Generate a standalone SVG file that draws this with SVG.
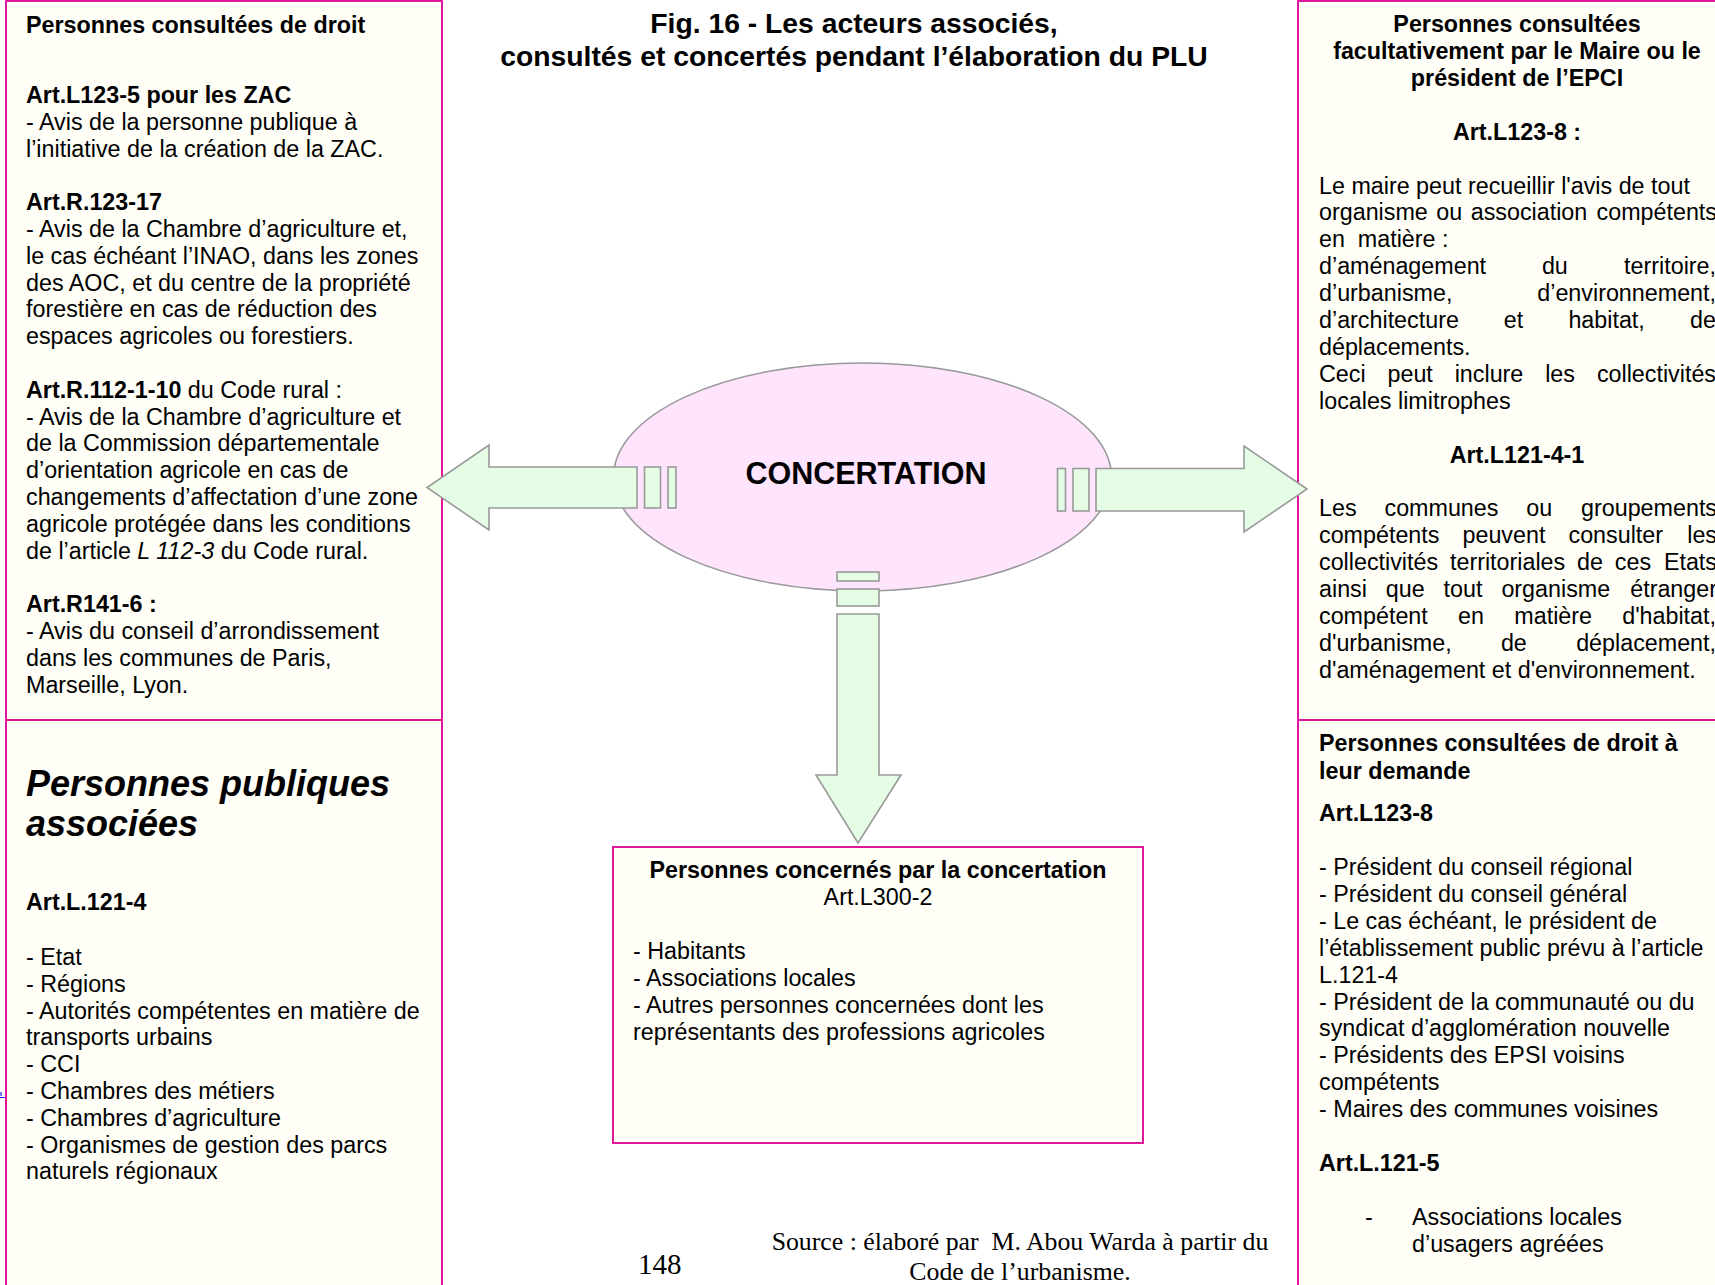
<svg xmlns="http://www.w3.org/2000/svg" width="1715" height="1285" viewBox="0 0 1715 1285">
<style>
text{font-family:"Liberation Sans",Arial,Helvetica,sans-serif;fill:#000}
.b{font-size:23.3px}
.bd{font-size:23.3px;font-weight:bold}
.c{text-anchor:middle}
.e{text-anchor:end}
.title{font-size:28.3px;font-weight:bold;text-anchor:middle}
.box{fill:#fffff7;stroke:#e0189c;stroke-width:2}
.arr{fill:#e5fce5;stroke:#999999;stroke-width:1.6}
.ser{font-family:"Liberation Serif","Times New Roman",serif}
</style>
<rect x="0" y="0" width="1715" height="1285" fill="#ffffff"/>

<g id="title">
<text class="title" x="854" y="33">Fig. 16 - Les acteurs associés,</text>
<text class="title" x="854" y="65.5">consultés et concertés pendant l’élaboration du PLU</text>
</g>

<g id="box-consultees-de-droit">
<rect class="box" x="6" y="1" width="436" height="719"/>
<text class="bd" x="26" y="33">Personnes consultées de droit</text>
<text class="bd" x="26" y="103">Art.L123-5 pour les ZAC</text>
<text class="b" x="26" y="129.8">- Avis de la personne publique à</text>
<text class="b" x="26" y="156.6">l’initiative de la création de la ZAC.</text>
<text class="bd" x="26" y="210.2">Art.R.123-17</text>
<text class="b" x="26" y="237">- Avis de la Chambre d’agriculture et,</text>
<text class="b" x="26" y="263.8">le cas échéant l’INAO, dans les zones</text>
<text class="b" x="26" y="290.6">des AOC, et du centre de la propriété</text>
<text class="b" x="26" y="317.4">forestière en cas de réduction des</text>
<text class="b" x="26" y="344.2">espaces agricoles ou forestiers.</text>
<text class="b" x="26" y="397.8"><tspan font-weight="bold">Art.R.112-1-10</tspan> du Code rural :</text>
<text class="b" x="26" y="424.6">- Avis de la Chambre d’agriculture et</text>
<text class="b" x="26" y="451.4">de la Commission départementale</text>
<text class="b" x="26" y="478.2">d’orientation agricole en cas de</text>
<text class="b" x="26" y="505">changements d’affectation d’une zone</text>
<text class="b" x="26" y="531.8">agricole protégée dans les conditions</text>
<text class="b" x="26" y="558.6">de l’article <tspan font-style="italic">L 112-3</tspan> du Code rural.</text>
<text class="bd" x="26" y="612.2">Art.R141-6 :</text>
<text class="b" x="26" y="639">- Avis du conseil d’arrondissement</text>
<text class="b" x="26" y="665.8">dans les communes de Paris,</text>
<text class="b" x="26" y="692.6">Marseille, Lyon.</text>
</g>

<g id="box-personnes-publiques-associees">
<rect class="box" x="6" y="720" width="436" height="580"/>
<text x="26" y="796" font-size="36" font-weight="bold" font-style="italic">Personnes publiques</text>
<text x="26" y="836" font-size="36" font-weight="bold" font-style="italic">associées</text>
<text class="bd" x="26" y="910">Art.L.121-4</text>
<text class="b" x="26" y="965">- Etat</text>
<text class="b" x="26" y="991.8">- Régions</text>
<text class="b" x="26" y="1018.6">- Autorités compétentes en matière de</text>
<text class="b" x="26" y="1045.4">transports urbains</text>
<text class="b" x="26" y="1072.2">- CCI</text>
<text class="b" x="26" y="1099">- Chambres des métiers</text>
<text class="b" x="26" y="1125.8">- Chambres d’agriculture</text>
<text class="b" x="26" y="1152.6">- Organismes de gestion des parcs</text>
<text class="b" x="26" y="1179.4">naturels régionaux</text>
</g>

<g id="box-consultees-facultativement">
<rect class="box" x="1298" y="1" width="430" height="719"/>
<text class="bd c" x="1517" y="32">Personnes consultées</text>
<text class="bd c" x="1517" y="58.8">facultativement par le Maire ou le</text>
<text class="bd c" x="1517" y="85.6">président de l’EPCI</text>
<text class="bd c" x="1517" y="139.5">Art.L123-8 :</text>
<text class="b" x="1319" y="193.5">Le maire peut recueillir l'avis de tout</text>
<text class="b" y="220.4"><tspan x="1319">organisme</tspan><tspan x="1436.3">ou</tspan><tspan x="1470.7">association</tspan><tspan x="1717" text-anchor="end">compétents</tspan></text>
<text class="b" x="1319" y="247.3" xml:space="preserve">en  matière :</text>
<text class="b" y="274.2"><tspan x="1319">d’aménagement</tspan><tspan x="1541.9">du</tspan><tspan x="1716" text-anchor="end">territoire,</tspan></text>
<text class="b" y="301.1"><tspan x="1319">d’urbanisme,</tspan><tspan x="1716" text-anchor="end">d’environnement,</tspan></text>
<text class="b" y="328"><tspan x="1319">d’architecture</tspan><tspan x="1503.7">et</tspan><tspan x="1568.4">habitat,</tspan><tspan x="1716" text-anchor="end">de</tspan></text>
<text class="b" x="1319" y="354.9">déplacements.</text>
<text class="b" y="381.8"><tspan x="1319">Ceci</tspan><tspan x="1387.5">peut</tspan><tspan x="1454.7">inclure</tspan><tspan x="1545.2">les</tspan><tspan x="1716" text-anchor="end">collectivités</tspan></text>
<text class="b" x="1319" y="408.7">locales limitrophes</text>
<text class="bd c" x="1517" y="462.5">Art.L121-4-1</text>
<text class="b" y="516.3"><tspan x="1319">Les</tspan><tspan x="1384.5">communes</tspan><tspan x="1526.3">ou</tspan><tspan x="1717" text-anchor="end">groupements</tspan></text>
<text class="b" y="543.2"><tspan x="1319">compétents</tspan><tspan x="1462.5">peuvent</tspan><tspan x="1568.5">consulter</tspan><tspan x="1717" text-anchor="end">les</tspan></text>
<text class="b" y="570.1"><tspan x="1319">collectivités</tspan><tspan x="1450">territoriales</tspan><tspan x="1577">de</tspan><tspan x="1614.8">ces</tspan><tspan x="1717" text-anchor="end">Etats</tspan></text>
<text class="b" y="597"><tspan x="1319">ainsi</tspan><tspan x="1385.8">que</tspan><tspan x="1443.6">tout</tspan><tspan x="1501.4">organisme</tspan><tspan x="1717" text-anchor="end">étranger</tspan></text>
<text class="b" y="623.9"><tspan x="1319">compétent</tspan><tspan x="1458.1">en</tspan><tspan x="1514.3">matière</tspan><tspan x="1716" text-anchor="end">d'habitat,</tspan></text>
<text class="b" y="650.8"><tspan x="1319">d'urbanisme,</tspan><tspan x="1500.9">de</tspan><tspan x="1716" text-anchor="end">déplacement,</tspan></text>
<text class="b" x="1319" y="677.7">d'aménagement et d'environnement.</text>
</g>

<g id="box-consultees-a-leur-demande">
<rect class="box" x="1298" y="720" width="430" height="580"/>
<text class="bd" x="1319" y="751">Personnes consultées de droit à</text>
<text class="bd" x="1319" y="779">leur demande</text>
<text class="bd" x="1319" y="821">Art.L123-8</text>
<text class="b" x="1319" y="875">- Président du conseil régional</text>
<text class="b" x="1319" y="901.9">- Président du conseil général</text>
<text class="b" x="1319" y="928.8">- Le cas échéant, le président de</text>
<text class="b" x="1319" y="955.7">l’établissement public prévu à l’article</text>
<text class="b" x="1319" y="982.6">L.121-4</text>
<text class="b" x="1319" y="1009.5">- Président de la communauté ou du</text>
<text class="b" x="1319" y="1036.4">syndicat d’agglomération nouvelle</text>
<text class="b" x="1319" y="1063.3">- Présidents des EPSI voisins</text>
<text class="b" x="1319" y="1090.2">compétents</text>
<text class="b" x="1319" y="1117">- Maires des communes voisines</text>
<text class="bd" x="1319" y="1170.8">Art.L.121-5</text>
<text class="b" x="1365" y="1224.6">-</text>
<text class="b" x="1412" y="1224.6">Associations locales</text>
<text class="b" x="1412" y="1251.5">d’usagers agréées</text>
</g>

<g id="node-concertation">
<ellipse cx="862.5" cy="477" rx="249" ry="114" fill="#ffe4fd" stroke="#999999" stroke-width="1.6"/>
<text x="866" y="484" font-size="30.5" font-weight="bold" text-anchor="middle">CONCERTATION</text>
</g>

<g id="box-concernes">
<rect class="box" x="613" y="847" width="530" height="296"/>
<text class="bd c" x="878" y="878">Personnes concernés par la concertation</text>
<text class="b c" x="878" y="905">Art.L300-2</text>
<text class="b" x="633" y="959">- Habitants</text>
<text class="b" x="633" y="986">- Associations locales</text>
<text class="b" x="633" y="1013">- Autres personnes concernées dont les</text>
<text class="b" x="633" y="1040">représentants des professions agricoles</text>
</g>

<g id="connectors">
<g id="arrow-left">
<polygon class="arr" points="637,467 489,467 489,445 427,487.5 489,530 489,508 637,508"/>
<rect class="arr" x="644.5" y="467" width="16" height="41"/>
<rect class="arr" x="668" y="467" width="8" height="41"/>
</g>
<g id="arrow-right">
<polygon class="arr" points="1096,468.5 1244,468.5 1244,446 1307,489 1244,532 1244,511 1096,511"/>
<rect class="arr" x="1073" y="468.5" width="16" height="42.5"/>
<rect class="arr" x="1057.5" y="468.5" width="8" height="42.5"/>
</g>
<g id="arrow-down">
<polygon class="arr" points="837,614 879,614 879,775 901,775 858,843 816,775 837,775"/>
<rect class="arr" x="837" y="572" width="42" height="9"/>
<rect class="arr" x="837" y="589" width="42" height="17"/>
</g>
</g>

<g id="footer">
<text class="ser" x="638" y="1274" font-size="29">148</text>
<text class="ser" x="1020" y="1250" font-size="25.8" text-anchor="middle" xml:space="preserve">Source : élaboré par  M. Abou Warda à partir du</text>
<text class="ser" x="1020" y="1280" font-size="25.8" text-anchor="middle">Code de l’urbanisme.</text>
</g>
<path d="M1 1092 v4 M0 1097.5 h5" stroke="#1a1aff" stroke-width="1.2" fill="none"/>
</svg>
